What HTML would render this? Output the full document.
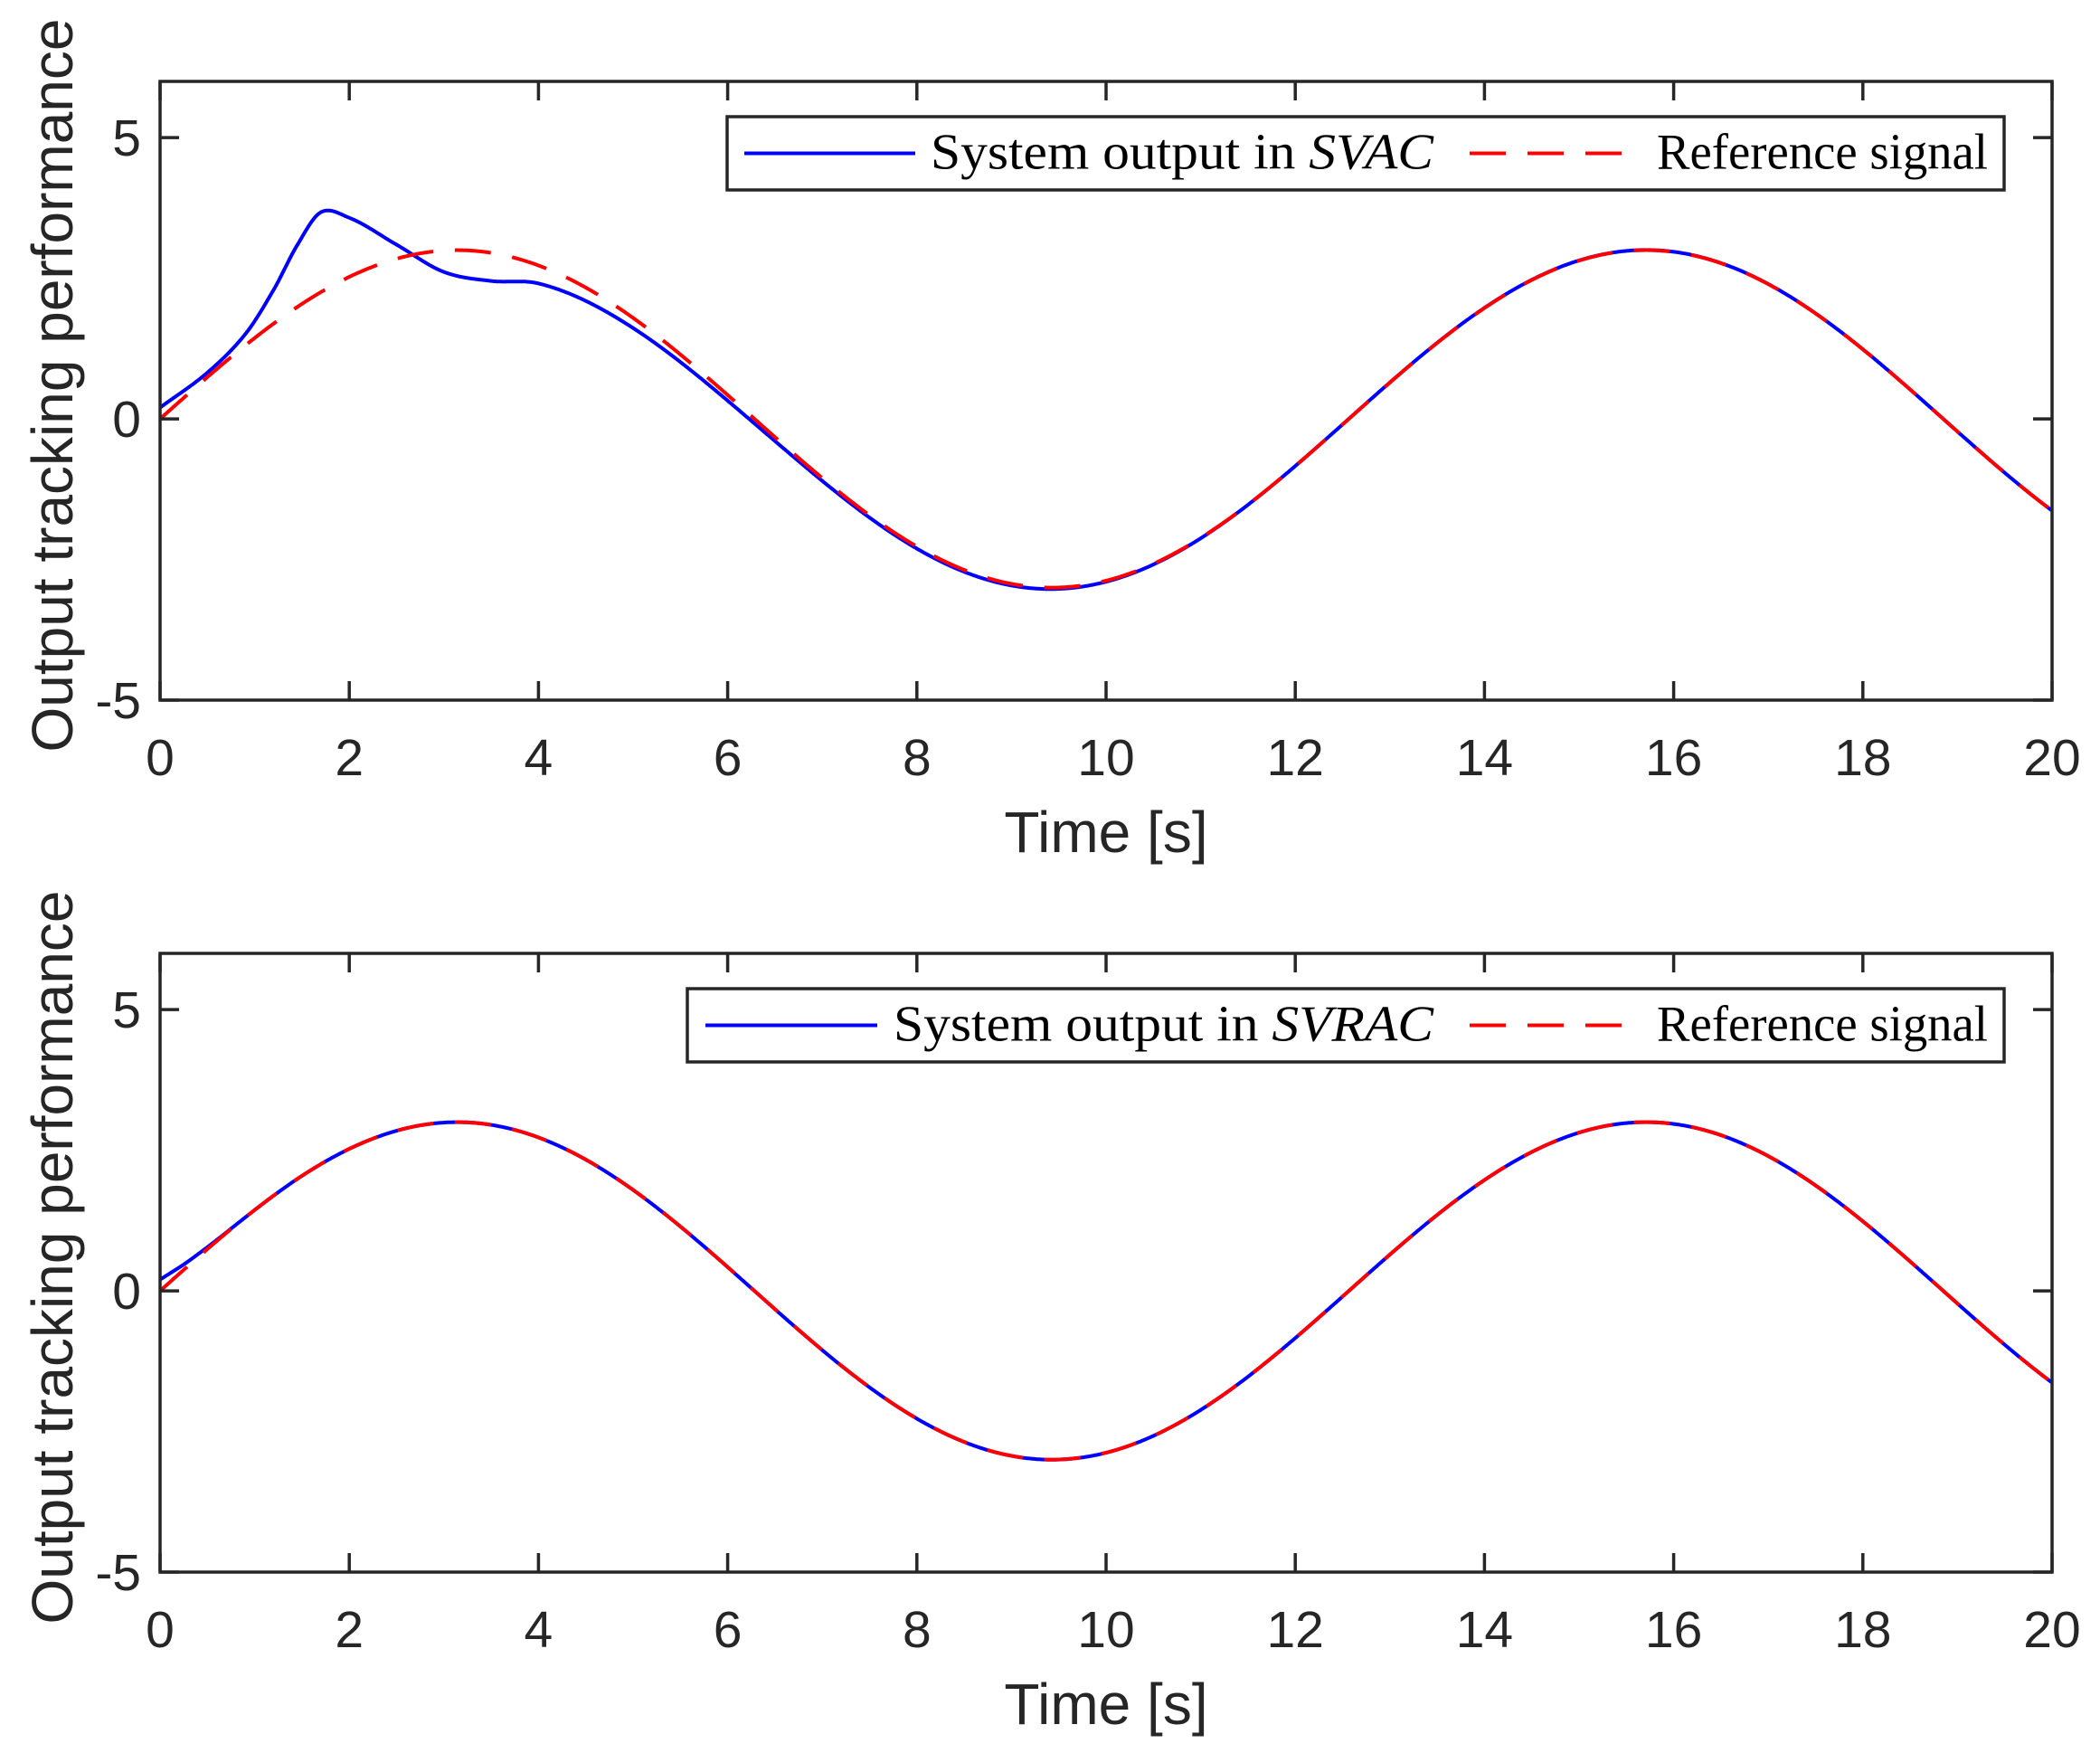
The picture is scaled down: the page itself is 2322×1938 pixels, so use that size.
<!DOCTYPE html>
<html><head><meta charset="utf-8">
<style>html,body{margin:0;padding:0;background:#fff}svg{display:block}</style>
</head><body>
<svg id="s" width="2322" height="1938" viewBox="0 0 2322 1938" xmlns="http://www.w3.org/2000/svg">
<rect width="2322" height="1938" fill="#fff"/>
<g id="g"></g>
</svg>
<script>
const NS="http://www.w3.org/2000/svg";
const g=document.getElementById('g');
function el(t,a,txt){const e=document.createElementNS(NS,t);for(const k in a)e.setAttribute(k,a[k]);if(txt!==undefined)e.textContent=txt;g.appendChild(e);return e;}
const L=177,R=2269,H=684;
const ref=t=>3*Math.sin(t/2);
const ek=[[0,0.2],[0.5,0.08],[0.9,0.2],[1.2,0.6],[1.45,1.1],[1.7,1.42],[2.0,1.05],[2.5,0.25],[3.0,-0.38],[3.5,-0.5],[4.0,-0.32],[5.0,-0.18],[6.0,-0.1],[7.0,-0.05],[9.0,-0.03],[12,0],[20,0]];
function interp(k,t){for(let i=0;i<k.length-1;i++){if(t<=k[i+1][0]){const p0=k[Math.max(i-1,0)],p1=k[i],p2=k[i+1],p3=k[Math.min(i+2,k.length-1)];const u=(t-p1[0])/(p2[0]-p1[0]);const h=p2[0]-p1[0];const m1=(p2[1]-p0[1])/(p2[0]-p0[0])*h,m2=(p3[1]-p1[1])/(p3[0]-p1[0])*h;const u2=u*u,u3=u2*u;return (2*u3-3*u2+1)*p1[1]+(u3-2*u2+u)*m1+(-2*u3+3*u2)*p2[1]+(u3-u2)*m2;}}return 0;}
const ek2=[[0,0.2],[0.3,0.08],[0.7,0.01],[1.5,0],[20,0]];
function axes(top,f,legendLeft,blueX1,blueX2,txtX,label){
  const X=t=>L+(R-L)*t/20, Y=v=>top+H*(6-v)/11;
  let pb="",pr="";
  for(let i=0;i<=2000;i++){const t=i/100;pb+=(i?"L":"M")+X(t).toFixed(1)+","+Y(ref(t)+f(t)).toFixed(1);pr+=(i?"L":"M")+X(t).toFixed(1)+","+Y(ref(t)).toFixed(1);}
  el('path',{d:pb,fill:'none',stroke:'#0000ff','stroke-width':4,'stroke-linejoin':'round'});
  el('path',{d:pr,fill:'none',stroke:'#ff0000','stroke-width':4,'stroke-dasharray':'40 24'});
  el('rect',{x:L,y:top,width:R-L,height:H,fill:'none',stroke:'#262626','stroke-width':3.5});
  for(let t=0;t<=20;t+=2){const x=X(t);
    el('line',{x1:x,y1:top+H,x2:x,y2:top+H-21,stroke:'#262626','stroke-width':3.5});
    el('line',{x1:x,y1:top,x2:x,y2:top+21,stroke:'#262626','stroke-width':3.5});
    el('text',{x:x,y:top+H+83,'text-anchor':'middle','font-family':'Liberation Sans, sans-serif','font-size':57,fill:'#262626'},String(t));}
  for(const v of [5,0,-5]){const y=Y(v);
    el('line',{x1:L,y1:y,x2:L+21,y2:y,stroke:'#262626','stroke-width':3.5});
    el('line',{x1:R,y1:y,x2:R-21,y2:y,stroke:'#262626','stroke-width':3.5});
    el('text',{x:156,y:y+20,'text-anchor':'end','font-family':'Liberation Sans, sans-serif','font-size':57,fill:'#262626'},String(v));}
  el('text',{x:1223,y:top+H+168,'text-anchor':'middle','font-family':'Liberation Sans, sans-serif','font-size':64,fill:'#262626'},'Time [s]');
  const cy=top+H/2-6;
  el('text',{x:0,y:0,transform:`translate(80,${cy}) rotate(-90)`,'text-anchor':'middle','font-family':'Liberation Sans, sans-serif','font-size':64,fill:'#262626'},'Output tracking performance');
  const lt=top+39, lb=top+120, ly=(lt+lb)/2;
  el('rect',{x:legendLeft,y:lt,width:2216-legendLeft,height:lb-lt,fill:'#fff',stroke:'#262626','stroke-width':3.5});
  el('line',{x1:blueX1,y1:ly,x2:blueX2,y2:ly,stroke:'#0000ff','stroke-width':4});
  const t1=el('text',{x:txtX,y:ly+17,'font-family':'Liberation Serif, serif','font-size':56,fill:'#000',textLength:1585-txtX,lengthAdjust:'spacingAndGlyphs'});
  t1.innerHTML='System output in <tspan font-style="italic">'+label+'</tspan>';
  el('line',{x1:1625,y1:ly,x2:1814,y2:ly,stroke:'#ff0000','stroke-width':4,'stroke-dasharray':'40 24'});
  el('text',{x:1832,y:ly+17,'font-family':'Liberation Serif, serif','font-size':56,fill:'#000',textLength:366,lengthAdjust:'spacingAndGlyphs'},'Reference signal');
}
axes(90,t=>interp(ek,t),804,823,1012,1029,'SVAC');
axes(1054,t=>interp(ek2,t),760,780,970,988,'SVRAC');
</script>
</body></html>
